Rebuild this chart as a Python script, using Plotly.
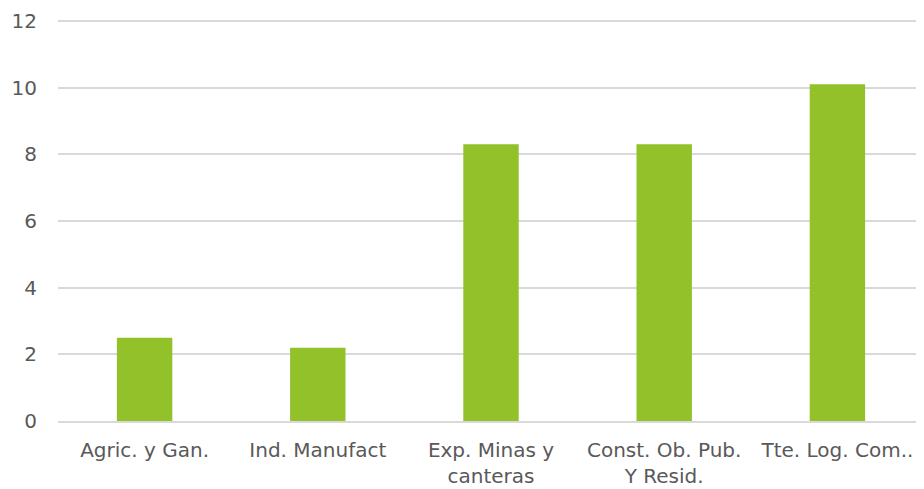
import plotly.graph_objects as go

categories = ["Agric. y Gan.", "Ind. Manufact", "Exp. Minas y<br>canteras", "Const. Ob. Pub.<br>Y Resid.", "Tte. Log. Com.."]
values = [2.5, 2.2, 8.3, 8.3, 10.1]

fig = go.Figure(go.Bar(x=categories, y=values, marker=dict(color="#92C12A", line=dict(width=0)), width=0.32))

font = dict(family="DejaVu Sans", size=20, color="#595959")
fig.update_layout(
    width=916, height=481,
    margin=dict(l=50, r=0, t=10, b=68),
    plot_bgcolor="white", paper_bgcolor="white",
    font=font, showlegend=False,
    xaxis=dict(showgrid=False, showline=True, linecolor="#d9d9d9", linewidth=1.5, tickfont=font,
               ticks="", ticklabelstandoff=10, automargin=False),
    yaxis=dict(range=[0, 12.09], dtick=2, showgrid=True, gridcolor="#d9d9d9", gridwidth=1.5,
               zeroline=False, showline=False, tickfont=font, ticklabelstandoff=20, automargin=False),
)
fig.write_html("out.html")
